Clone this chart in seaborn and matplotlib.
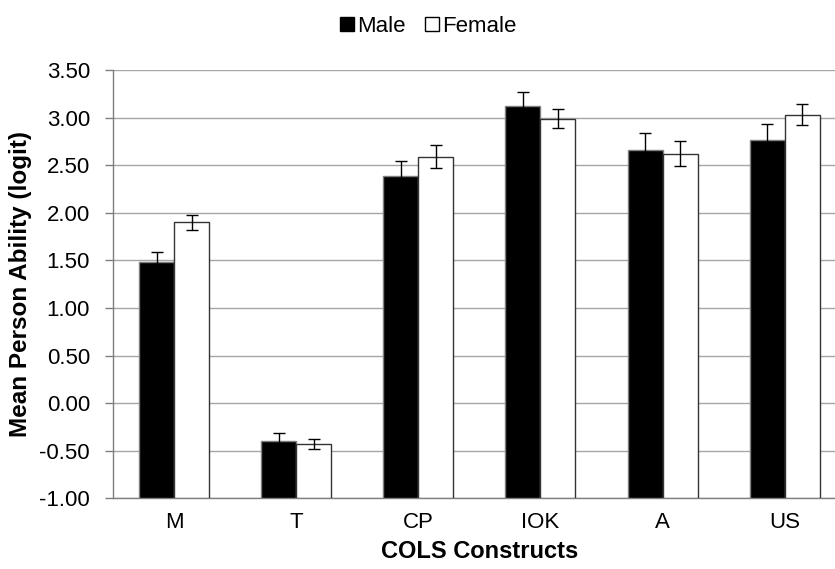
import pandas as pd
import seaborn as sns
import matplotlib.pyplot as plt
from matplotlib.patches import Patch

constructs = ["M", "T", "CP", "IOK", "A", "US"]
male_mean = [1.48, -0.40, 2.39, 3.12, 2.66, 2.76]
female_mean = [1.90, -0.43, 2.59, 2.99, 2.62, 3.03]
male_err = [0.11, 0.09, 0.15, 0.15, 0.18, 0.17]
female_err = [0.08, 0.05, 0.12, 0.10, 0.13, 0.11]
y_ticks = [-1.0, -0.5, 0.0, 0.5, 1.0, 1.5, 2.0, 2.5, 3.0, 3.5]

df = pd.DataFrame({
    "Construct": constructs * 2,
    "Gender": ["Male"] * 6 + ["Female"] * 6,
    "Ability": male_mean + female_mean,
    "Err": male_err + female_err,
})

sns.set_style("white")
plt.rcParams["font.family"] = ["Liberation Sans", "DejaVu Sans"]
plt.rcParams["text.color"] = "black"
plt.rcParams["axes.labelcolor"] = "black"
plt.rcParams["xtick.labelcolor"] = "black"
plt.rcParams["ytick.labelcolor"] = "black"

ymin = -1.0

fig, ax = plt.subplots(figsize=(8.35, 5.69), dpi=100)
# axis runs a little past the right edge, like the cropped original
fig.subplots_adjust(left=0.1353, right=1.013, top=0.877, bottom=0.124)

sns.barplot(
    data=df, x="Construct", y="Ability", hue="Gender",
    order=constructs, hue_order=["Male", "Female"],
    palette={"Male": "black", "Female": "white"},
    errorbar=None, width=0.573, legend=False, ax=ax,
    zorder=3,
)

n = len(constructs)
bars = ax.patches[:2 * n]
for i, p in enumerate(bars):
    # bars grow from the bottom of the axis (-1.00), as in Excel
    val = df["Ability"].iloc[i]
    p.set_y(ymin)
    p.set_height(val - ymin)
    p.set_linewidth(1.0)
    p.set_edgecolor("#7f7f7f" if i < n else "#333333")

for i, p in enumerate(bars):
    x = p.get_x() + p.get_width() / 2
    ax.errorbar(x, df["Ability"].iloc[i], yerr=df["Err"].iloc[i], fmt="none",
                ecolor="black", elinewidth=1.0, capsize=4, capthick=1.0, zorder=4)

ax.set_ylim(ymin, 3.5)
ax.set_yticks(y_ticks)
ax.set_yticklabels([f"{v:.2f}" for v in y_ticks], fontsize=16)
ax.yaxis.grid(True, color="#a6a6a6", linewidth=1.0, zorder=0)
ax.set_axisbelow(True)

ax.set_xlim(-0.5, n - 0.5)
ax.set_xticks(range(n))
ax.set_xticklabels(constructs, fontsize=16)
ax.tick_params(axis="x", length=0, pad=10)
ax.set_xticks([i - 0.5 for i in range(n + 1)], minor=True)
ax.tick_params(axis="x", which="minor", length=6, color="#7f7f7f", width=1.0)
ax.tick_params(axis="y", length=6, color="#7f7f7f", width=1.0, left=True, pad=10.5)

for s in ["top", "right"]:
    ax.spines[s].set_visible(False)
for s in ["left", "bottom"]:
    ax.spines[s].set_color("#7f7f7f")
    ax.spines[s].set_linewidth(1.0)

ax.set_xlabel("COLS Constructs", fontsize=17, fontweight="bold", labelpad=5)
ax.set_ylabel("Mean Person Ability (logit)", fontsize=17.5, fontweight="bold", labelpad=5)

handles = [Patch(facecolor="black", edgecolor="black", label="Male"),
           Patch(facecolor="white", edgecolor="black", label="Female")]
fig.legend(handles=handles, loc="center", bbox_to_anchor=(0.513, 0.953),
           ncol=2, frameon=False, fontsize=16, handlelength=0.6,
           handleheight=0.6, handletextpad=0.15, columnspacing=0.9)

fig.savefig("out.png", dpi=100)
